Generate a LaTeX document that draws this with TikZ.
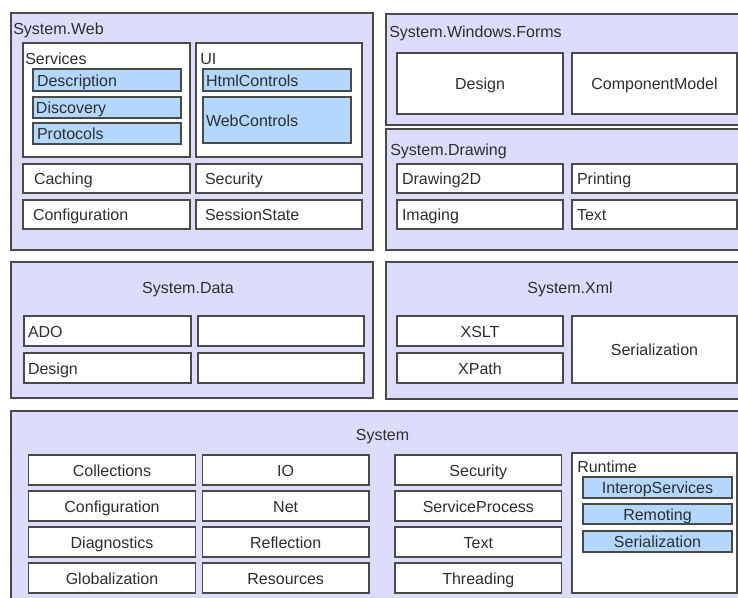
\documentclass[tikz,border=0pt]{standalone}
\usepackage{fontspec}
\setmainfont{Liberation Sans}
\usetikzlibrary{positioning}
\definecolor{nsfill}{HTML}{DDDDFB}
\definecolor{nsleaf}{HTML}{B3D7FD}
\definecolor{nsline}{HTML}{4A4A4A}
\definecolor{nstext}{HTML}{2E2E2E}
\tikzset{
    rect/.style n args={4}{at={({(#1+#3)/2},{(#2+#4)/2})},
        minimum width={(#3-#1)*0.75pt},minimum height={(#4-#2)*0.75pt}},
    lrect/.style n args={5}{rect={#1}{#2}{#3}{#4},
        text width={(#3-#1-2*#5)*0.75pt},inner xsep={#5*0.75pt},align=left},
    ns/.style={draw=nsline,fill=nsfill,line width=1pt,inner sep=0pt,outer sep=0pt},
    grp/.style={draw=nsline,fill=white,line width=1pt,inner sep=0pt,outer sep=0pt},
    cell/.style={grp,text=nstext,text height=10pt,text depth=1pt},
    leaf/.style={cell,fill=nsleaf},
    sysc/.style={cell,minimum width=125pt,minimum height=22.5pt},
    title/.style={text=nstext,inner sep=0pt,anchor=west,text height=10pt,text depth=1pt},
}

\begin{document}
\begin{tikzpicture}[x=0.75pt,y=-0.75pt,node distance=4.5pt,
    font=\fontsize{12pt}{14pt}\selectfont]
    \useasboundingbox (0,0) rectangle (738,597);
    \clip (0,0) rectangle (738,597);

    % System.Web
    \node[ns,rect={11}{13}{373}{250}] (web) {};
    \node[title] (webT) at ([shift={(2,15)}]web.north west) {System.Web};
    \node[grp,rect={23}{43}{190}{157}] (svc) {};
    \node[title] (svcT) at ([shift={(2,15)}]svc.north west) {Services};
    \node[leaf,lrect={33}{69}{181}{91}{4}] (desc) {Description};
    \node[leaf,lrect={33}{97}{181}{118}{3}] (disco) {Discovery};
    \node[leaf,lrect={33}{123}{181}{144}{4}] (proto) {Protocols};
    \node[grp,rect={196}{43}{362}{157}] (ui) {};
    \node[title] (uiT) at ([shift={(4,15)}]ui.north west) {UI};
    \node[leaf,lrect={203}{69}{351}{91}{3}] (html) {HtmlControls};
    \node[leaf,lrect={203}{97}{351}{143}{3}] (webctl) {WebControls};
    \node[cell,lrect={23}{164}{190}{193}{11}] (cache) {Caching};
    \node[cell,lrect={196}{164}{362}{193}{9}] (websec) {Security};
    \node[cell,lrect={23}{200}{190}{229}{10}] (webcfg) {Configuration};
    \node[cell,lrect={196}{200}{362}{229}{9}] (sess) {SessionState};

    % System.Windows.Forms
    \node[ns,rect={386}{14}{750}{125}] (forms) {};
    \node[title] (formsT) at ([shift={(3,17)}]forms.north west) {System.Windows.Forms};
    \node[cell,rect={397}{53}{563}{114}] (fdesign) {Design};
    \node[cell,rect={572}{53}{737}{114}] (compmod) {ComponentModel};

    % System.Drawing
    \node[ns,rect={386}{129}{750}{250}] (drawing) {};
    \node[title] (drawingT) at ([shift={(4,20)}]drawing.north west) {System.Drawing};
    \node[cell,lrect={397}{164}{563}{193}{5}] (d2d) {Drawing2D};
    \node[cell,lrect={572}{164}{737}{193}{5}] (print) {Printing};
    \node[cell,lrect={397}{200}{563}{229}{5}] (imaging) {Imaging};
    \node[cell,lrect={572}{200}{737}{229}{5}] (dtext) {Text};

    % System.Data
    \node[ns,rect={11}{262}{373}{398}] (data) {};
    \node[title,anchor=center] (dataT) at ([shift={(-4,25)}]data.north) {System.Data};
    \node[cell,lrect={24}{316}{191}{346}{4}] (ado) {ADO};
    \node[cell,rect={198}{316}{364}{346}] (dslot1) {};
    \node[cell,lrect={24}{353}{191}{383}{4}] (ddesign) {Design};
    \node[cell,rect={198}{353}{364}{383}] (dslot2) {};

    % System.Xml
    \node[ns,rect={386}{262}{750}{399}] (xml) {};
    \node[title,anchor=center] (xmlT) at ([shift={(2,25)}]xml.north) {System.Xml};
    \node[cell,rect={397}{316}{563}{346}] (xslt) {XSLT};
    \node[cell,rect={397}{353}{563}{383}] (xpath) {XPath};
    \node[cell,rect={572}{316}{737}{383}] (xser) {Serialization};

    % System
    \node[ns,rect={11}{411}{750}{620}] (sys) {};
    \node[title,anchor=center] (sysT) at ([shift={(2,23)}]sys.north) {System};
    \node[sysc] (coll) at (112,470) {Collections};
    \node[sysc,below=of coll] (cfg) {Configuration};
    \node[sysc,below=of cfg] (diag) {Diagnostics};
    \node[sysc,below=of diag] (glob) {Globalization};
    \node[sysc,right=5.25pt of coll] (io) {IO};
    \node[sysc,below=of io] (net) {Net};
    \node[sysc,below=of net] (refl) {Reflection};
    \node[sysc,below=of refl] (res) {Resources};
    \node[sysc,right=19.5pt of io] (sec) {Security};
    \node[sysc,below=of sec] (sproc) {ServiceProcess};
    \node[sysc,below=of sproc] (stext) {Text};
    \node[sysc,below=of stext] (thread) {Threading};
    \node[grp,rect={572}{453}{737}{593}] (rt) {};
    \node[title] (rtT) at ([shift={(5,13)}]rt.north west) {Runtime};
    \node[leaf,rect={583}{477}{732}{498}] (interop) {InteropServices};
    \node[leaf,rect={583}{504}{732}{524}] (remot) {Remoting};
    \node[leaf,rect={583}{531}{732}{552}] (rser) {Serialization};
\end{tikzpicture}
\end{document}
